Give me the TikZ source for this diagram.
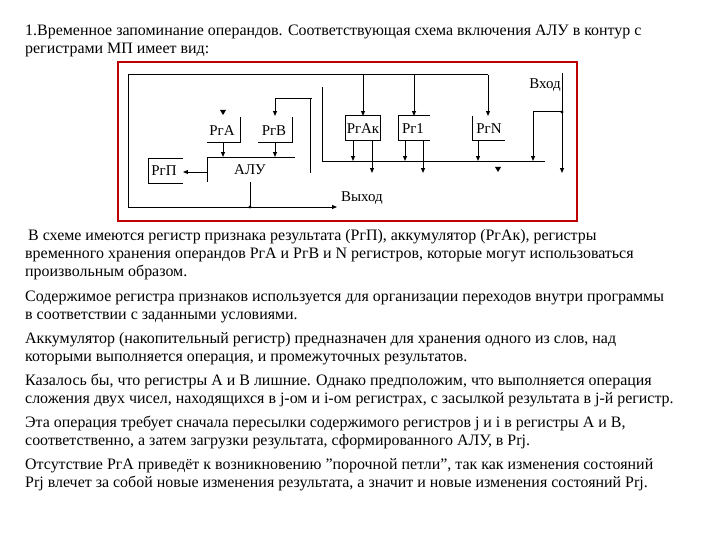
\documentclass[tikz,border=0pt]{standalone}
\usepackage{fontspec}
\setmainfont{Liberation Serif}
\usetikzlibrary{arrows.meta}
\begin{document}
\begin{tikzpicture}[x=1bp,y=-1bp,
 ln/.style={line width=1pt},
 ar/.style={ln,-{Triangle[length=5pt,width=4pt]}},
 tx/.style={anchor=base west,inner sep=0pt,font=\fontsize{16}{18}\selectfont},
 lb/.style={inner sep=0pt,font=\fontsize{15}{16}\selectfont}]
\useasboundingbox (0,0) rectangle (720,540);
% texts
\node[tx] (t1) at (25,36) {1.Временное запоминание операндов. Соответствующая схема включения АЛУ в контур с};
\node[tx] (t2) at (25,54) {регистрами МП имеет вид:};
\node[tx] (t3) at (28,241) {В схеме имеются регистр признака результата (РгП), аккумулятор (РгАк), регистры};
\node[tx] (t4) at (25,259) {временного хранения операндов РгА и РгВ и N регистров, которые могут использоваться};
\node[tx] (t5) at (25,277) {произвольным образом.};
\node[tx] (t6) at (25,301) {Содержимое регистра признаков используется для организации переходов внутри программы};
\node[tx] (t7) at (25,319) {в соответствии с заданными условиями.};
\node[tx] (t8) at (25,343) {Аккумулятор (накопительный регистр) предназначен для хранения одного из слов, над};
\node[tx] (t9) at (25,361) {которыми выполняется операция, и промежуточных результатов.};
\node[tx] (t10) at (25,385) {Казалось бы, что регистры А и В лишние. Однако предположим, что выполняется операция};
\node[tx] (t11) at (25,403) {сложения двух чисел, находящихся в j-ом и i-ом регистрах, с засылкой результата в j-й регистр.};
\node[tx] (t12) at (25,427) {Эта операция требует сначала пересылки содержимого регистров j и i в регистры А и В,};
\node[tx] (t13) at (25,445) {соответственно, а затем загрузки результата, сформированного АЛУ, в Рrj.};
\node[tx] (t14) at (25,469) {Отсутствие РгА приведёт к возникновению "порочной петли", так как изменения состояний};
\node[tx] (t15) at (25,487) {Рrj влечет за собой новые изменения результата, а значит и новые изменения состояний Рrj.};
% frame
\draw[red!75!black,line width=1.4pt] (118,62) rectangle (577,221);
% coordinates
\coordinate (tl) at (128,75); \coordinate (tr) at (488,75);
\coordinate (bl) at (128,207); \coordinate (bo) at (337,207); \coordinate (ad) at (250,207);
% left outer loop
\draw[ln] (bl) -- (tl) -- (tr);
\draw[ar] (bl) -- (bo);
\fill (ad) circle (1.7);
\draw[ln] (250,182) -- (ad);
\node[lb] (vyh) at (362,198) {Выход};
\draw[ar] (363,75) -- (363,116);
\draw[ar] (414,75) -- (414,116);
\draw[ar] (tr) -- (488,116);
% registers
\draw[ln] (345,116) rectangle (380,141); \node[lb] (rgak) at (363,129) {РгАк};
\draw[ln] (430,116) -- (398,116) -- (398,141) -- (430,141); \node[lb] (rg1) at (413,129) {Рг1};
\draw[ln] (472,116) -- (472,141) -- (505,141); \node[lb] (rgn) at (489,129) {РгN};
\draw[ln] (240,117) -- (240,142) -- (207,142); \node[lb] (rga) at (222,131) {РгА};
\draw[ln] (292,117) -- (292,142) -- (258,142); \node[lb] (rgb) at (274,131) {РгВ};
\fill (220,110) -- (226,110) -- (223,115) -- cycle;
\draw[ln] (312,99) -- (275,99); \draw[ar] (275,99) -- (275,116);
\draw[ln] (310,99) -- (310,173);
% ALU
\draw[ln] (295,157) -- (207,157) -- (207,182);
\node[lb] (alu) at (250,170) {АЛУ};
\draw[ar] (223,142) -- (223,157);
\draw[ar] (275,142) -- (275,157);
\draw[ln] (183,158) -- (148,158) -- (148,183) -- (183,183); \node[lb] (rgp) at (164,171) {РгП};
\draw[ar] (207,172) -- (183,172);
% right bus
\draw[ln] (322,87) -- (322,161) -- (545,161);
\foreach \x in {353,405,478} \draw[ar] (\x,141) -- (\x,161);
\foreach \x in {372,423} \draw[ar] (\x,141) -- (\x,173);
\fill (495,167) -- (501,167) -- (498,172) -- cycle;
\node[lb] (vh) at (545,85) {Вход};
\draw[ar] (562,73) -- (562,173);
\fill (562,112) circle (1.7);
\draw[ln] (562,112) -- (533,112); \draw[ar] (533,112) -- (533,161);
\end{tikzpicture}
\end{document}
